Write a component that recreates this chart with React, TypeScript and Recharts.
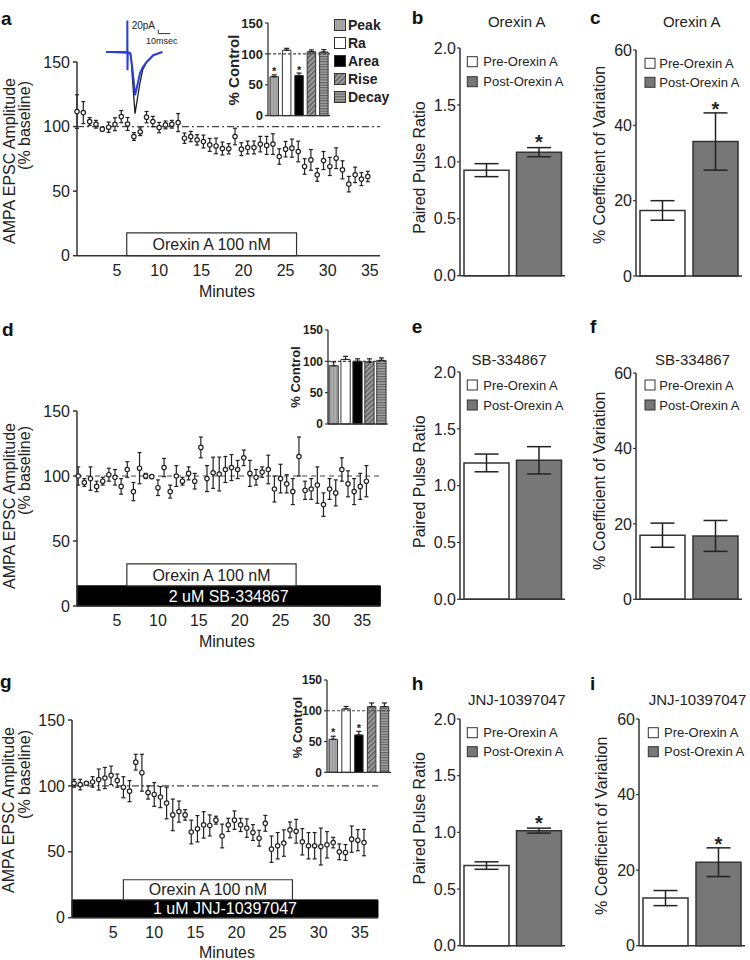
import React from 'react';
import {
  ComposedChart, LineChart, BarChart, Line, Bar, Cell, XAxis, YAxis,
  ReferenceLine, ReferenceArea, Label, ErrorBar, LabelList,
} from 'recharts';

const FONT = '"Liberation Sans", Arial, Helvetica, sans-serif';
const INK = '#222222';
const AXIS = '#333333';

// ---------- time-course data ----------
const minutes = [0.25, 1, 1.75, 2.5, 3.25, 4, 4.75, 5.5, 6.25, 7, 7.75, 8.5, 9.25, 10, 10.75, 11.5,
  12.25, 13, 13.75, 14.5, 15.25, 16, 16.75, 17.5, 18.25, 19, 19.75, 20.5, 21.25, 22, 22.75, 23.5,
  24.25, 25, 25.75, 26.5, 27.25, 28, 28.75, 29.5, 30.25, 31, 31.75, 32.5, 33.25, 34, 34.75, 35.5];
const minuteTicks = [5, 10, 15, 20, 25, 30, 35];
const ampTicks = [0, 50, 100, 150];

const ampOrexin = [111.6, 110.8, 103.9, 101.8, 98, 99.5, 101.8, 107.7, 102, 92.3, 96, 107.3, 103.9, 99.2,
  101.3, 101.8, 103.1, 91, 92.3, 89.7, 88.4, 85.8, 85, 83, 82.8, 92.3, 82.5, 83.8, 83.8, 86.4, 85.4, 86.4,
  76.8, 82.5, 83.3, 80.7, 69.1, 74.2, 62.6, 73.7, 69.1, 75.5, 66.5, 55.4, 62.6, 59.3, 61.3];
const seOrexin = [13, 8.5, 3, 3, 1.5, 4, 5, 4.7, 5, 3, 3, 4.4, 4, 4, 3, 3, 7, 4, 4, 4, 5, 5, 6, 5, 4, 6.4,
  5, 5, 5, 6, 7, 8, 6, 6, 7, 8, 6, 8, 5, 7, 7, 8, 7, 6, 6, 5, 4];

const ampSB = [100, 95, 98, 92, 96, 101, 99, 92, 105, 88, 106, 100, 99.5, 91, 106.5, 88, 100, 96, 102, 96,
  122, 98, 102.5, 101.5, 105, 106.5, 105, 114, 102, 99, 103, 105, 90, 98, 94, 88, 115, 89, 90, 93, 78, 90,
  87, 105, 94, 88, 92, 96];
const seSB = [7, 3, 9, 4, 3, 5, 6, 6, 6, 7, 12, 2, 1, 6, 7, 5, 8, 3, 5, 6, 8, 10, 12, 13, 10, 10, 7, 6, 10,
  6, 4, 11, 10, 11, 7, 10, 15, 7, 8, 14, 9, 8, 10, 9, 10, 10, 10, 12];

const ampJNJ = [102, 101, 102, 103, 104.8, 106, 108, 104, 99, 96, 118, 110, 95, 93.5, 91.5, 87, 78, 80.5,
  78, 65, 67.5, 70.4, 70, 74, 62, 70.4, 74, 70.4, 68, 64.6, 60.3, 71.6, 52, 54.6, 56.6, 66.6, 65.6, 57.6,
  54.6, 54.6, 54, 55.3, 57, 50, 49.5, 59.6, 58.8, 57];
const seJNJ = [3, 4, 1, 4, 8, 8, 7, 5, 8, 8, 6, 14, 5, 9, 8, 12, 12, 8, 4, 9, 10, 10, 8, 3, 9, 5, 7, 5, 7,
  6, 6, 6, 10, 10, 10, 6, 9, 10, 10, 10, 14, 10, 4, 6, 6, 10, 8, 10];

// drug application windows (minutes) and bar heights (% baseline units)
const orexinWindowA = [6.15, 26.3];
const orexinWindowD = [6.2, 26.9];
const orexinWindowG = [6.25, 26.8];

// ---------- insets ----------
const insetCategories = ['Peak', 'Ra', 'Area', 'Rise', 'Decay'];
const insetFills = ['url(#fillPeak)', '#ffffff', '#000000', 'url(#fillRise)', 'url(#fillDecay)'];
const insetOrexin = [63, 106, 65, 103.5, 103];
const insetOrexinSE = [3, 3, 4, 3, 4];
const insetSB = [93, 103, 100, 99, 101.5];
const insetSBSE = [6, 5, 4, 5, 4];
const insetJNJ = [53.6, 103, 60.6, 106.7, 106.7];
const insetJNJSE = [5, 4, 6, 6, 6];
const insetStars = ['*', '', '*', '', ''];
const insetNoStars = ['', '', '', '', ''];

// ---------- paired bars ----------
const groups = ['Pre-Orexin A', 'Post-Orexin A'];
const groupFills = ['#ffffff', '#777777'];
const pprTicks = [0, 0.5, 1, 1.5, 2];
const cvTicks = [0, 20, 40, 60];
const pprOrexin = [0.927, 1.085];
const pprOrexinSE = [0.057, 0.04];
const cvOrexin = [17.4, 35.7];
const cvOrexinSE = [2.6, 7.6];
const pprSB = [1.2, 1.223];
const pprSBSE = [0.078, 0.12];
const cvSB = [17.0, 16.8];
const cvSBSE = [3.2, 4.1];
const pprJNJ = [0.707, 1.015];
const pprJNJSE = [0.033, 0.022];
const cvJNJ = [12.6, 22.1];
const cvJNJSE = [2.0, 3.8];
const starPost = ['', '*'];
const starNone = ['', ''];

// ---------- example trace (ms, pA) ----------
const traceBlackMs = [0, 20, 21, 22.5, 24.2, 26, 28, 30.5, 33.9, 39.4, 46.9];
const traceBlackPA = [0, -5, -40, -170, -308, -240, -165, -90, -50, -16, 0];
const traceBlueMs = [0, 17.7, 17.8, 17.9, 18.2, 20.5, 22.5, 24.2, 26, 28.3, 30.5, 33.9, 39.4, 46.9];
const traceBluePA = [0, 0, 158, -91, 0, -8, -110, -216, -170, -106, -78, -50, -16, 0];

type Rect = [number, number, number, number];

function place(plot: Rect, l: number, t: number, r: number, b: number) {
  const [x0, y0, x1, y1] = plot;
  return {
    style: { position: 'absolute' as const, left: x0 - l, top: y0 - t },
    width: x1 - x0 + l + r,
    height: y1 - y0 + t + b,
    margin: { top: t, right: r, bottom: 0, left: 0 },
    yw: l,
    xh: b,
  };
}

function PatternDefs() {
  return (
    <svg width={0} height={0} style={{ position: 'absolute', left: 0, top: 0 }}>
      <defs>
        <pattern id="fillPeak" width="3" height="3" patternUnits="userSpaceOnUse">
          <rect width="3" height="3" fill="#ababab" />
          <rect width="1" height="3" fill="#979797" />
        </pattern>
        <pattern id="fillRise" width="3.5" height="3.5" patternUnits="userSpaceOnUse" patternTransform="rotate(45)">
          <rect width="3.5" height="3.5" fill="#9d9d9d" />
          <rect width="1.4" height="3.5" fill="#5c5c5c" />
        </pattern>
        <pattern id="fillDecay" width="3" height="2.6" patternUnits="userSpaceOnUse">
          <rect width="3" height="2.6" fill="#a4a4a4" />
          <rect width="3" height="1.1" fill="#5e5e5e" />
        </pattern>
      </defs>
    </svg>
  );
}

function TimeCourse({ plot, xDomain, amp, se, win, boxY, barY, barText, dash }: any) {
  const rows = amp.map((v: number, i: number) => ({ t: minutes[i], amp: v, se: se[i] }));
  const p = place(plot, 60, 8, 8, 28);
  const tickStyle = { fill: INK, fontSize: 16, fontFamily: FONT };
  return (
    <div style={p.style}>
      <ComposedChart width={p.width} height={p.height} margin={p.margin} data={rows}>
        <XAxis type="number" dataKey="t" domain={xDomain} ticks={minuteTicks} interval={0} height={p.xh}
          axisLine={{ stroke: AXIS, strokeWidth: 1.5 }} tickLine={false} tickSize={6} tickMargin={3} tick={tickStyle} />
        <YAxis type="number" domain={[0, 150]} ticks={ampTicks} interval={0} width={p.yw}
          axisLine={{ stroke: AXIS, strokeWidth: 1.5 }} tickLine={{ stroke: AXIS, strokeWidth: 1.5 }}
          tickSize={4} tickMargin={3} tick={tickStyle} />
        <ReferenceLine y={100} stroke="#444" strokeWidth={1.2} strokeDasharray={dash} />
        {barY ? (
          <ReferenceArea y1={barY[0]} y2={barY[1]} fill="#000" fillOpacity={1} stroke="#000" ifOverflow="visible">
            <Label value={barText} position="center" fill="#ffffff" fontSize={16} fontFamily={FONT} />
          </ReferenceArea>
        ) : null}
        <ReferenceArea x1={win[0]} x2={win[1]} y1={boxY[0]} y2={boxY[1]} fill="#fff" fillOpacity={1}
          stroke={AXIS} strokeWidth={1.2} ifOverflow="visible">
          <Label value="Orexin A 100 nM" position="center" fill={INK} fontSize={16} fontFamily={FONT} />
        </ReferenceArea>
        <Line dataKey="amp" stroke="none" isAnimationActive={false} activeDot={false}
          dot={{ r: 2.2, fill: '#fff', stroke: INK, strokeWidth: 1.2 }}>
          <ErrorBar dataKey="se" direction="y" width={2} stroke={INK} strokeWidth={1.2} />
        </Line>
      </ComposedChart>
    </div>
  );
}

function Inset({ plot, values, se, stars, tickFont, barSize }: any) {
  const rows = insetCategories.map((name, i) => ({ name, v: values[i], err: [0, se[i]], star: stars[i] }));
  const p = place(plot, 34, 6, 4, 8);
  const pxPerUnit = (plot[3] - plot[1]) / 150;
  const starOffset = Math.max(...se) * pxPerUnit - 0.5;
  return (
    <div style={p.style}>
      <BarChart width={p.width} height={p.height} margin={p.margin} data={rows} barSize={barSize}>
        <XAxis dataKey="name" height={p.xh} tick={false} tickSize={3}
          tickLine={{ stroke: AXIS, strokeWidth: 1 }} axisLine={{ stroke: AXIS, strokeWidth: 1.3 }} />
        <YAxis type="number" domain={[0, 150]} ticks={ampTicks} interval={0} width={p.yw}
          axisLine={{ stroke: AXIS, strokeWidth: 1.3 }} tickLine={{ stroke: AXIS, strokeWidth: 1.2 }}
          tickSize={3} tickMargin={2}
          tick={{ fill: INK, fontSize: tickFont, fontWeight: 'bold', fontFamily: FONT }} />
        <ReferenceLine y={100} stroke="#444" strokeWidth={1.1} strokeDasharray="3 2" />
        <Bar dataKey="v" stroke={AXIS} strokeWidth={1} isAnimationActive={false}>
          {rows.map((r, i) => <Cell key={r.name} fill={insetFills[i]} />)}
          <ErrorBar dataKey="err" direction="y" width={2.5} stroke={INK} strokeWidth={1.2} />
          <LabelList dataKey="star" position="top" offset={starOffset} fill={INK} fontSize={11}
            fontWeight="bold" fontFamily={FONT} />
        </Bar>
      </BarChart>
    </div>
  );
}

function PairBars({ plot, domainMax, ticks, decimals, values, se, stars }: any) {
  const rows = groups.map((name, i) => ({ name, v: values[i], se: se[i], star: stars[i] }));
  const p = place(plot, 50, 10, 6, 14);
  const pxPerUnit = (plot[3] - plot[1]) / domainMax;
  const starOffset = Math.max(...se) * pxPerUnit - 3;
  return (
    <div style={p.style}>
      <BarChart width={p.width} height={p.height} margin={p.margin} data={rows} barSize={45}>
        <XAxis dataKey="name" height={p.xh} tick={false} tickSize={4}
          tickLine={{ stroke: AXIS, strokeWidth: 1.2 }} axisLine={{ stroke: AXIS, strokeWidth: 1.5 }} />
        <YAxis type="number" domain={[0, domainMax]} ticks={ticks} interval={0} width={p.yw}
          tickFormatter={(v: number) => v.toFixed(decimals)}
          axisLine={{ stroke: AXIS, strokeWidth: 1.5 }} tickLine={{ stroke: AXIS, strokeWidth: 1.2 }}
          tickSize={3} tickMargin={1} tick={{ fill: INK, fontSize: 16, fontFamily: FONT }} />
        <Bar dataKey="v" stroke={AXIS} strokeWidth={1.5} isAnimationActive={false}>
          {rows.map((r, i) => <Cell key={r.name} fill={groupFills[i]} />)}
          <ErrorBar dataKey="se" direction="y" width={12} stroke={INK} strokeWidth={1.5} />
          <LabelList dataKey="star" position="top" offset={starOffset} fill={INK} fontSize={20}
            fontWeight="bold" fontFamily={FONT} />
        </Bar>
      </BarChart>
    </div>
  );
}

function Trace() {
  const black = traceBlackMs.map((ms, i) => ({ ms, pA: traceBlackPA[i] }));
  const blue = traceBlueMs.map((ms, i) => ({ ms, pA: traceBluePA[i] }));
  const p = place([106, 16.7, 173.2, 121.7], 0, 0, 0, 0);
  return (
    <div style={p.style}>
      <LineChart width={p.width} height={p.height} margin={p.margin}>
        <XAxis type="number" dataKey="ms" domain={[0, 56]} hide allowDataOverflow />
        <YAxis type="number" domain={[-350, 175]} hide allowDataOverflow />
        <Line data={black} dataKey="pA" stroke="#1a1a1a" strokeWidth={1.3} dot={false} isAnimationActive={false} />
        <Line data={blue} dataKey="pA" stroke="#2b3fd6" strokeWidth={2} dot={false} isAnimationActive={false} />
        <ReferenceLine segment={[{ x: 43.6, y: 92 }, { x: 43.6, y: 112 }]} stroke="#333" strokeWidth={1} ifOverflow="visible" />
        <ReferenceLine segment={[{ x: 43.6, y: 92 }, { x: 53.6, y: 92 }]} stroke="#333" strokeWidth={1} ifOverflow="visible" />
      </LineChart>
    </div>
  );
}

const panelLetters: [string, number, number][] = [
  ['a', 1, 25], ['b', 411.7, 24], ['c', 590, 24],
  ['d', 2, 336], ['e', 411.7, 333], ['f', 590, 333],
  ['g', 0, 688], ['h', 411.7, 690], ['i', 590, 690],
];

function Legend2({ sx, tx, rows }: any) {
  return (
    <g>
      {groups.map((g, i) => (
        <g key={g}>
          <rect x={sx} y={rows[i] - 5} width={10} height={10} fill={groupFills[i]} stroke={AXIS} strokeWidth={1} />
          <text x={tx} y={rows[i] + 4.7} fontSize={13} fill={INK} fontFamily={FONT}>{g}</text>
        </g>
      ))}
    </g>
  );
}

function Overlay() {
  const ampTitle = [
    { top: 78, a: 15, b: 30, minutesY: 296.5 },
    { top: 423, a: 15, b: 30, minutesY: 646.5 },
    { top: 727, a: 14, b: 30, minutesY: 958 },
  ];
  const insetRows = [25, 43, 61, 79, 97];
  return (
    <svg width={750} height={960} style={{ position: 'absolute', left: 0, top: 0, pointerEvents: 'none' }}
      fontFamily={FONT}>
      {panelLetters.map(([s, x, y]) => (
        <text key={s} x={x} y={y} fontSize={19} fontWeight="bold" fill="#111">{s}</text>
      ))}
      {ampTitle.map((t, i) => (
        <g key={i}>
          <text transform={`translate(${t.a},${t.top}) rotate(-90)`} textAnchor="end" fontSize={16} fill={INK}>
            AMPA EPSC Amplitude
          </text>
          <text transform={`translate(${t.b},${t.top + 3}) rotate(-90)`} textAnchor="end" fontSize={16} fill={INK}>
            (% baseline)
          </text>
          <text x={227} y={t.minutesY} textAnchor="middle" fontSize={16} fill={INK}>Minutes</text>
        </g>
      ))}
      {/* inset axis titles */}
      <text transform="translate(239,70) rotate(-90)" textAnchor="middle" fontSize={15} fontWeight="bold" fill={INK}>% Control</text>
      <text transform="translate(299.5,377) rotate(-90)" textAnchor="middle" fontSize={13} fontWeight="bold" fill={INK}>% Control</text>
      <text transform="translate(302,727.5) rotate(-90)" textAnchor="middle" fontSize={13} fontWeight="bold" fill={INK}>% Control</text>
      {/* inset legend (panel a) */}
      {insetCategories.map((c, i) => (
        <g key={c}>
          <rect x={334.5} y={insetRows[i] - 5.5} width={11} height={11} fill={insetFills[i]} stroke={AXIS} strokeWidth={1} />
          <text x={348} y={insetRows[i] + 5} fontSize={14} fontWeight="bold" fill={INK}>{c}</text>
        </g>
      ))}
      {/* trace scale text */}
      <text x={155} y={29} textAnchor="end" fontSize={10} fill={INK}>20pA</text>
      <text x={146} y={44} fontSize={9} fill={INK}>10msec</text>
      {/* paired-bar titles */}
      <text x={516.7} y={26.7} textAnchor="middle" fontSize={15} fill={INK}>Orexin A</text>
      <text x={691.7} y={26.7} textAnchor="middle" fontSize={15} fill={INK}>Orexin A</text>
      <text x={509} y={365} textAnchor="middle" fontSize={15} fill={INK}>SB-334867</text>
      <text x={692.5} y={365} textAnchor="middle" fontSize={15} fill={INK}>SB-334867</text>
      <text x={516.7} y={705} textAnchor="middle" fontSize={15} fill={INK}>JNJ-10397047</text>
      <text x={697.5} y={705} textAnchor="middle" fontSize={15} fill={INK}>JNJ-10397047</text>
      {/* paired-bar y titles */}
      <text transform="translate(425,167.5) rotate(-90)" textAnchor="middle" fontSize={16} fill={INK}>Paired Pulse Ratio</text>
      <text transform="translate(425,481.7) rotate(-90)" textAnchor="middle" fontSize={16} fill={INK}>Paired Pulse Ratio</text>
      <text transform="translate(425,818.3) rotate(-90)" textAnchor="middle" fontSize={16} fill={INK}>Paired Pulse Ratio</text>
      <text transform="translate(605,155) rotate(-90)" textAnchor="middle" fontSize={16} fill={INK}>% Coefficient of Variation</text>
      <text transform="translate(605,480.8) rotate(-90)" textAnchor="middle" fontSize={16} fill={INK}>% Coefficient of Variation</text>
      <text transform="translate(606.5,825.8) rotate(-90)" textAnchor="middle" fontSize={16} fill={INK}>% Coefficient of Variation</text>
      {/* paired-bar legends */}
      <Legend2 sx={467.3} tx={483.3} rows={[61.7, 81.7]} />
      <Legend2 sx={645} tx={659.3} rows={[63.3, 82.3]} />
      <Legend2 sx={467.3} tx={483.3} rows={[385, 405]} />
      <Legend2 sx={645} tx={659.3} rows={[385, 405]} />
      <Legend2 sx={467.3} tx={483.3} rows={[732.7, 751.7]} />
      <Legend2 sx={648.3} tx={664} rows={[732.7, 751.7]} />
    </svg>
  );
}

export default function App() {
  return (
    <div style={{ position: 'absolute', left: 0, top: 0, width: 750, height: 960, background: '#fff',
      overflow: 'hidden', fontFamily: FONT }}>
      <PatternDefs />
      <TimeCourse plot={[77, 62.3, 380, 256]} xDomain={[0.25, 36.2]} amp={ampOrexin} se={seOrexin}
        win={orexinWindowA} boxY={[0, 17.6]} barY={null} barText="" dash="7 3 2 3" />
      <TimeCourse plot={[76.7, 411, 380, 606]} xDomain={[0.1, 37.2]} amp={ampSB} se={seSB}
        win={orexinWindowD} boxY={[15.5, 32.4]} barY={[0, 15.5]} barText="2 uM SB-334867" dash="5 4" />
      <TimeCourse plot={[71.7, 720, 377.7, 917.7]} xDomain={[0, 37.2]} amp={ampJNJ} se={seJNJ}
        win={orexinWindowG} boxY={[13.5, 28.8]} barY={[0, 13.5]} barText="1 uM JNJ-10397047" dash="7 3 2 3" />
      <Inset plot={[268, 23.3, 330, 116]} values={insetOrexin} se={insetOrexinSE} stars={insetStars} tickFont={13} barSize={8.5} />
      <Inset plot={[328.3, 330, 388, 424]} values={insetSB} se={insetSBSE} stars={insetNoStars} tickFont={12} barSize={9.3} />
      <Inset plot={[327, 680, 391, 772.3]} values={insetJNJ} se={insetJNJSE} stars={insetStars} tickFont={12} barSize={8.5} />
      <Trace />
      <PairBars plot={[460, 48.3, 565, 276]} domainMax={2} ticks={pprTicks} decimals={1} values={pprOrexin} se={pprOrexinSE} stars={starPost} />
      <PairBars plot={[636, 50, 742, 276]} domainMax={60} ticks={cvTicks} decimals={0} values={cvOrexin} se={cvOrexinSE} stars={starPost} />
      <PairBars plot={[460, 371.7, 565, 599]} domainMax={2} ticks={pprTicks} decimals={1} values={pprSB} se={pprSBSE} stars={starNone} />
      <PairBars plot={[636, 372.7, 742, 599]} domainMax={60} ticks={cvTicks} decimals={0} values={cvSB} se={cvSBSE} stars={starNone} />
      <PairBars plot={[460, 719.3, 565, 946]} domainMax={2} ticks={pprTicks} decimals={1} values={pprJNJ} se={pprJNJSE} stars={starPost} />
      <PairBars plot={[639, 719.3, 745, 946]} domainMax={60} ticks={cvTicks} decimals={0} values={cvJNJ} se={cvJNJSE} stars={starPost} />
      <Overlay />
    </div>
  );
}
